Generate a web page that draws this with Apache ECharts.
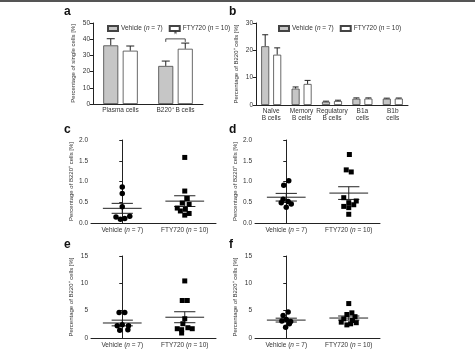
<!DOCTYPE html>
<html>
<head>
<meta charset="utf-8">
<script src="https://cdn.jsdelivr.net/npm/echarts@6/dist/echarts.min.js"></script>
<style>
html, body { margin: 0; background: #fff; }
#main { width: 475px; height: 350px; }
</style>
</head>
<body>
<div id="main"></div>
<script>
// panel a: group means and SEM (upper whisker only)
var aCats = ['Plasma cells', 'B220\u207A B cells'];
var aVehMean = [36.2, 23.5];
var aVehSem = [4.1, 3.0];
var aFtyMean = [32.9, 34.1];
var aFtySem = [2.9, 3.5];
var aSig = [[1, 40.2]]; // bracket over B220+ B cells

// panel b
var bCats = ['Na\u00efve\nB cells', 'Memory\nB cells', 'Regulatory\nB cells', 'B1a\ncells', 'B1b\ncells'];
var bVehMean = [21.5, 6.0, 1.2, 2.3, 2.3];
var bVehSem = [4.2, 0.6, 0.2, 0.3, 0.2];
var bFtyMean = [18.4, 7.7, 1.45, 2.35, 2.35];
var bFtySem = [2.5, 1.3, 0.3, 0.25, 0.2];

// panels c-f: single animals, jitter = horizontal spread in category units
var groups = ['Vehicle (n = 7)', 'FTY720 (n = 10)'];
var cVeh = [0.87, 0.71, 0.39, 0.145, 0.09, 0.11, 0.16];
var cVehJit = [0, 0, 0, -0.10, -0.03, 0.04, 0.12];
var cFty = [1.58, 0.77, 0.59, 0.48, 0.45, 0.36, 0.29, 0.33, 0.19, 0.23];
var cFtyJit = [0, 0, 0.04, -0.04, 0.07, -0.12, -0.07, 0.01, 0, 0.07];

var dVeh = [1.02, 0.91, 0.57, 0.52, 0.49, 0.46, 0.38];
var dVehJit = [0.04, -0.04, -0.05, 0.03, -0.08, 0.08, 0];
var dFty = [1.65, 1.28, 1.23, 0.61, 0.49, 0.53, 0.40, 0.37, 0.44, 0.21];
var dFtyJit = [0.01, -0.04, 0.04, -0.08, 0, 0.12, -0.08, 0, 0.08, 0];

var eVeh = [4.68, 4.68, 2.43, 2.25, 2.25, 1.40, 1.52];
var eVehJit = [-0.05, 0.04, 0, -0.08, 0.10, -0.04, 0.09];
var eFty = [10.44, 6.86, 6.86, 3.52, 2.61, 1.70, 1.52, 0.91, 1.88, 1.70];
var eFtyJit = [0, -0.04, 0.04, 0, -0.03, -0.12, -0.05, -0.05, 0.05, 0.12];

var fVeh = [4.74, 4.13, 3.4, 3.1, 3.0, 2.6, 1.95];
var fVehJit = [0.03, -0.05, 0, -0.07, 0.07, 0.05, -0.01];
var fFty = [6.3, 4.6, 4.3, 3.9, 3.5, 3.2, 2.9, 2.8, 2.6, 2.4];
var fFtyJit = [0, 0.05, -0.03, 0.10, -0.08, 0.06, -0.12, 0.12, 0.03, -0.03];

var FONT = 'Liberation Sans, Arial, sans-serif';
var INK = '#333';
var LINE = '#222';

function mean(a) { return a.reduce(function (s, v) { return s + v; }, 0) / a.length; }
function sem(a) {
    var m = mean(a);
    var ss = a.reduce(function (s, v) { return s + (v - m) * (v - m); }, 0);
    return Math.sqrt(ss / (a.length - 1)) / Math.sqrt(a.length);
}

var rich = {
    t: { fontSize: 6.5, color: INK, fontFamily: FONT },
    i: { fontSize: 6.5, color: INK, fontFamily: FONT, fontStyle: 'italic' }
};
function groupLabel(s) {
    return s.replace(/^(.*\()n( = \d+\))$/, '{t|$1}{i|n}{t|$2}');
}

var grids = [
    { left: 93, top: 23, width: 110, height: 81 },
    { left: 256, top: 23, width: 152, height: 82 },
    { left: 91, top: 140, width: 125, height: 83 },
    { left: 255, top: 140, width: 125, height: 83 },
    { left: 91, top: 256, width: 125, height: 82 },
    { left: 255, top: 256, width: 125, height: 82 }
];

var axisLine = { lineStyle: { color: LINE, width: 1 } };
var axisTick = { length: 3, lineStyle: { color: LINE, width: 1 } };

function yAx(gi, max, interval, name, digits) {
    return {
        type: 'value', gridIndex: gi, min: 0, max: max, interval: interval,
        splitLine: { show: false },
        axisLine: { show: true, lineStyle: axisLine.lineStyle },
        axisTick: { show: true, length: 3, lineStyle: axisTick.lineStyle },
        axisLabel: {
            fontSize: 6.5, color: INK, fontFamily: FONT, margin: 3,
            formatter: function (v) { return v.toFixed(digits); }
        },
        name: name, nameLocation: 'middle', nameGap: 17, nameRotate: 90,
        nameTextStyle: { fontSize: 6, color: INK, fontFamily: FONT }
    };
}

var xAxes = [
    {
        type: 'category', gridIndex: 0, data: aCats,
        axisLine: axisLine, axisTick: { alignWithLabel: true, length: 3, lineStyle: axisTick.lineStyle },
        axisLabel: { interval: 0, fontSize: 6.5, color: INK, fontFamily: FONT, margin: 3 }
    },
    {
        type: 'category', gridIndex: 1, data: bCats,
        axisLine: axisLine, axisTick: { alignWithLabel: true, length: 3, lineStyle: axisTick.lineStyle },
        axisLabel: { interval: 0, hideOverlap: false, fontSize: 6.5, color: INK, fontFamily: FONT, margin: 3, lineHeight: 7 }
    }
];
var yAxes = [
    yAx(0, 50, 10, 'Percentage of single cells [%]', 0),
    yAx(1, 30, 10, 'Percentage of B220\u207A cells [%]', 0),
    yAx(2, 2, 0.5, 'Percentage of B220\u207A cells [%]', 1),
    yAx(3, 2, 0.5, 'Percentage of B220\u207A cells [%]', 1),
    yAx(4, 15, 5, 'Percentage of B220\u207A cells [%]', 0),
    yAx(5, 15, 5, 'Percentage of B220\u207A cells [%]', 0)
];
// scatter grids: visible category axis + hidden value axis for the jittered points
for (var g = 2; g < 6; g++) {
    xAxes.push({
        type: 'category', gridIndex: g, data: groups,
        axisLine: axisLine, axisTick: { alignWithLabel: true, length: 3, lineStyle: axisTick.lineStyle },
        axisLabel: { interval: 0, hideOverlap: false, margin: 4, rich: rich, formatter: groupLabel }
    });
    xAxes.push({ type: 'value', gridIndex: g, min: -0.5, max: 1.5, show: false });
}

var lineStyle = { stroke: LINE, lineWidth: 1 };

function errRender(off, cap) {
    return function (params, api) {
        var i = api.value(0), m = api.value(1), s = api.value(2);
        var p = api.coord([i, m]);
        var q = api.coord([i, m + s]);
        var x = p[0] + off;
        return {
            type: 'group', children: [
                { type: 'line', shape: { x1: x, y1: p[1], x2: x, y2: q[1] }, style: lineStyle },
                { type: 'line', shape: { x1: x - cap, y1: q[1], x2: x + cap, y2: q[1] }, style: lineStyle }
            ]
        };
    };
}

function meanRender(params, api) {
    var x = api.value(0), m = api.value(1), s = api.value(2);
    var a0 = api.coord([x - 0.31, m]), a1 = api.coord([x + 0.31, m]);
    var t0 = api.coord([x - 0.17, m + s]), t1 = api.coord([x + 0.17, m + s]);
    var b0 = api.coord([x - 0.17, m - s]), b1 = api.coord([x + 0.17, m - s]);
    var c = api.coord([x, m]);
    return {
        type: 'group', children: [
            { type: 'line', shape: { x1: a0[0], y1: a0[1], x2: a1[0], y2: a1[1] }, style: lineStyle },
            { type: 'line', shape: { x1: t0[0], y1: t0[1], x2: t1[0], y2: t1[1] }, style: lineStyle },
            { type: 'line', shape: { x1: b0[0], y1: b0[1], x2: b1[0], y2: b1[1] }, style: lineStyle },
            { type: 'line', shape: { x1: c[0], y1: t0[1], x2: c[0], y2: b0[1] }, style: lineStyle }
        ]
    };
}

function sigRender(off) {
    return function (params, api) {
        var p = api.coord([api.value(0), api.value(1)]);
        var l = p[0] - off, r = p[0] + off, y = p[1];
        return {
            type: 'polyline', shape: { points: [[l, y + 3], [l, y], [r, y], [r, y + 3]] },
            style: { stroke: LINE, lineWidth: 0.8, fill: null }
        };
    };
}

var VEH_FILL = '#c6c6c6';
var BORDER = '#444';
var series = [];

// bar panels
var aBw = 15, aOff = aBw * 1.3 / 2;
var bBw = 8, bOff = bBw * 1.5 / 2;
series.push(
    { name: 'Vehicle', type: 'bar', xAxisIndex: 0, yAxisIndex: 0, data: aVehMean, barWidth: aBw, barGap: '30%',
      itemStyle: { color: VEH_FILL, borderColor: BORDER, borderWidth: 0.8 } },
    { name: 'FTY720', type: 'bar', xAxisIndex: 0, yAxisIndex: 0, data: aFtyMean, barWidth: aBw, barGap: '30%',
      itemStyle: { color: '#fff', borderColor: BORDER, borderWidth: 0.8 } },
    { type: 'custom', xAxisIndex: 0, yAxisIndex: 0, renderItem: errRender(-aOff, 4),
      data: aVehMean.map(function (m, i) { return [i, m, aVehSem[i]]; }) },
    { type: 'custom', xAxisIndex: 0, yAxisIndex: 0, renderItem: errRender(aOff, 4),
      data: aFtyMean.map(function (m, i) { return [i, m, aFtySem[i]]; }) },
    { type: 'custom', xAxisIndex: 0, yAxisIndex: 0, renderItem: sigRender(aOff), data: aSig, z: 5 },
    { type: 'scatter', xAxisIndex: 0, yAxisIndex: 0, symbolSize: 2, z: 6,
      itemStyle: { color: 'rgba(0,0,0,0)' }, data: aSig, silent: true,
      label: { show: true, position: 'top', distance: -1, formatter: '*',
               fontSize: 9, color: '#222', fontFamily: FONT } },
    { name: 'Vehicle', type: 'bar', xAxisIndex: 1, yAxisIndex: 1, data: bVehMean, barWidth: bBw, barGap: '50%',
      itemStyle: { color: VEH_FILL, borderColor: BORDER, borderWidth: 0.8 } },
    { name: 'FTY720', type: 'bar', xAxisIndex: 1, yAxisIndex: 1, data: bFtyMean, barWidth: bBw, barGap: '50%',
      itemStyle: { color: '#fff', borderColor: BORDER, borderWidth: 0.8 } },
    { type: 'custom', xAxisIndex: 1, yAxisIndex: 1, renderItem: errRender(-bOff, 3),
      data: bVehMean.map(function (m, i) { return [i, m, bVehSem[i]]; }) },
    { type: 'custom', xAxisIndex: 1, yAxisIndex: 1, renderItem: errRender(bOff, 3),
      data: bFtyMean.map(function (m, i) { return [i, m, bFtySem[i]]; }) }
);

// scatter panels
var scat = [[cVeh, cVehJit, cFty, cFtyJit], [dVeh, dVehJit, dFty, dFtyJit],
            [eVeh, eVehJit, eFty, eFtyJit], [fVeh, fVehJit, fFty, fFtyJit]];
scat.forEach(function (s, k) {
    var xi = 3 + k * 2, yi = 2 + k;
    series.push(
        { type: 'custom', xAxisIndex: xi, yAxisIndex: yi, renderItem: meanRender, z: 2,
          encode: { x: 0, y: 1 },
          data: [[0, mean(s[0]), sem(s[0])], [1, mean(s[2]), sem(s[2])]] },
        { type: 'scatter', xAxisIndex: xi, yAxisIndex: yi, symbol: 'circle', symbolSize: 5.5, z: 3,
          itemStyle: { color: '#000', opacity: 1 },
          data: s[0].map(function (v, i) { return [s[1][i], v]; }) },
        { type: 'scatter', xAxisIndex: xi, yAxisIndex: yi, symbol: 'rect', symbolSize: 5, z: 3,
          itemStyle: { color: '#000', opacity: 1 },
          data: s[2].map(function (v, i) { return [1 + s[3][i], v]; }) }
    );
});

function legendFmt(name) {
    return name === 'Vehicle' ? '{t|Vehicle (}{i|n}{t| = 7)}' : '{t|FTY720 (}{i|n}{t| = 10)}';
}
var legendBase = {
    data: ['Vehicle', 'FTY720'], icon: 'rect', itemWidth: 10, itemHeight: 5, itemGap: 6,
    formatter: legendFmt, textStyle: { rich: rich, padding: [0, 0, 0, -2] }, selectedMode: false
};

function letter(t, x, y) {
    return { type: 'text', left: x, top: y, style: { text: t, font: 'bold 12px ' + FONT, fill: '#111' } };
}

var option = {
    animation: false,
    backgroundColor: '#fff',
    grid: grids,
    xAxis: xAxes,
    yAxis: yAxes,
    legend: [
        Object.assign({ left: 102, top: 20 }, legendBase),
        Object.assign({ left: 273, top: 20 }, legendBase)
    ],
    graphic: [
        { type: 'rect', left: 0, top: 0, shape: { width: 475, height: 2 }, style: { fill: '#555' } },
        letter('a', 64, 6), letter('b', 229, 6),
        letter('c', 64, 124), letter('d', 229, 124),
        letter('e', 64, 239), letter('f', 229, 239)
    ],
    series: series
};

var myChart = echarts.init(document.getElementById('main'));
myChart.setOption(option);
</script>
</body>
</html>
